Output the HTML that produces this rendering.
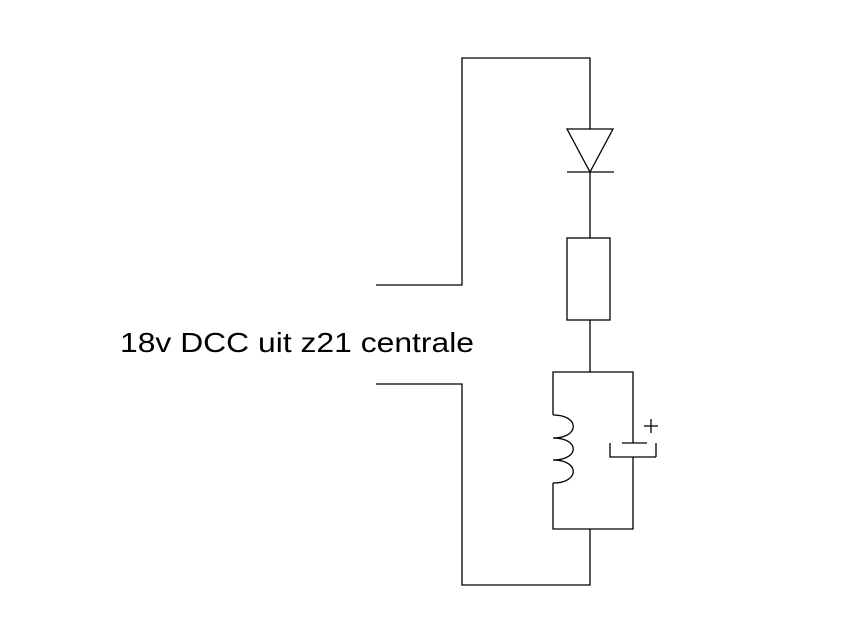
<!DOCTYPE html>
<html><head><style>html,body{margin:0;padding:0;background:#fff}</style></head>
<body>
<svg width="864" height="644" viewBox="0 0 864 644" xmlns="http://www.w3.org/2000/svg" style="display:block">
<g fill="none" stroke="#000" stroke-width="1.3">
<polyline points="376,285 462,285 462,58 590,58 590,129"/>
<polyline points="376,384 462,384 462,585 590,585 590,529"/>
<polygon points="567,129 613,129 590,172"/>
<line x1="567" y1="172" x2="614" y2="172"/>
<line x1="590" y1="172" x2="590" y2="238"/>
<rect x="567" y="238" width="43" height="82"/>
<line x1="590" y1="320" x2="590" y2="372"/>
<path d="M553,415 L553,372 L633,372 L633,443 M633,457 L633,529 L553,529 L553,483"/>
<path d="M553,415 C580,415 580,438 553,438 C580,438 580,460 553,460 C580,460 580,483 553,483"/>
<line x1="622" y1="443" x2="647" y2="443"/>
<polyline points="610,443 610,457 656,457"/>
<line x1="656" y1="443" x2="656" y2="457"/>
<line x1="644" y1="426" x2="658" y2="426"/>
<line x1="651" y1="419" x2="651" y2="433"/>
</g>
<text x="120" y="352" font-family="Liberation Sans, sans-serif" font-size="28" textLength="354" lengthAdjust="spacingAndGlyphs">18v DCC uit z21 centrale</text>
</svg>
</body></html>
